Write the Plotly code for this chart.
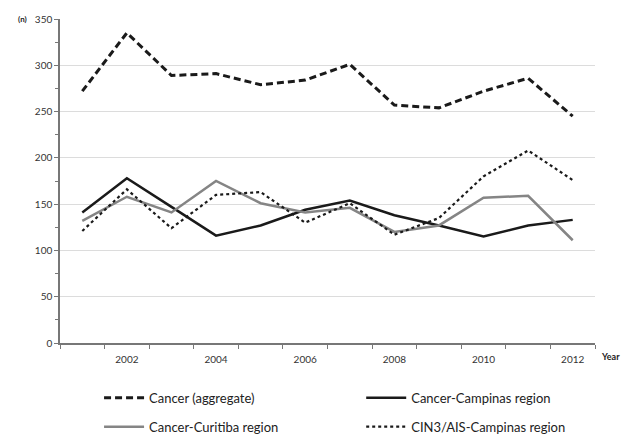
import plotly.graph_objects as go

years = [2001, 2002, 2003, 2004, 2005, 2006, 2007, 2008, 2009, 2010, 2011, 2012]
cancer_aggregate = [272, 335, 289, 291, 279, 284, 301, 257, 254, 272, 286, 245]
cancer_campinas = [141, 178, 147, 116, 127, 144, 154, 138, 127, 115, 127, 133]
cancer_curitiba = [132, 158, 141, 175, 151, 141, 146, 120, 127, 157, 159, 111]
cin3_campinas = [121, 166, 124, 160, 163, 130, 151, 117, 135, 180, 208, 176]
x_tick_labels = ["2002", "2004", "2006", "2008", "2010", "2012"]

font_family = "Lato, Open Sans, sans-serif"

fig = go.Figure()
fig.add_trace(go.Scatter(x=years, y=cancer_aggregate, mode="lines", name="Cancer (aggregate)",
                         legend="legend", legendgroup="a",
                         line=dict(color="#1a1a1a", width=3, dash="7px,4px")))
fig.add_trace(go.Scatter(x=years, y=cancer_campinas, mode="lines", name="Cancer-Campinas region",
                         legend="legend2", legendgroup="b",
                         line=dict(color="#1a1a1a", width=2.5)))
fig.add_trace(go.Scatter(x=years, y=cancer_curitiba, mode="lines", name="Cancer-Curitiba region",
                         legend="legend", legendgroup="c",
                         line=dict(color="#858585", width=2.5)))
fig.add_trace(go.Scatter(x=years, y=cin3_campinas, mode="lines", name="CIN3/AIS-Campinas region",
                         legend="legend2", legendgroup="d",
                         line=dict(color="#1a1a1a", width=2.2, dash="dot")))

legend_style = dict(orientation="v", yanchor="top", xanchor="left",
                    font=dict(size=13, color="#222222"), tracegroupgap=9,
                    itemwidth=40, bgcolor="rgba(0,0,0,0)")

# figure is a little taller than the window so the legends fit in the bottom margin
# without shrinking the plot area; the window shows the top 437 px.
fig.update_layout(
    width=626, height=470,
    margin=dict(l=60, r=31, t=19, b=127),
    paper_bgcolor="white", plot_bgcolor="white",
    font=dict(family=font_family, color="#333333"),
    showlegend=True,
    legend=dict(x=0.073, y=-0.123, **legend_style),
    legend2=dict(x=0.563, y=-0.123, **legend_style),
)
fig.update_xaxes(
    range=[2000.5, 2012.5],
    tickvals=[int(t) for t in x_tick_labels], ticktext=x_tick_labels,
    ticks="", showgrid=False, zeroline=False,
    showline=True, linecolor="#777777", linewidth=1.5,
    tickfont=dict(size=10, color="#333333"), ticklabelstandoff=6,
    minor=dict(tick0=2000.5, dtick=1, ticks="outside", ticklen=4, tickcolor="#777777", showgrid=False),
)
fig.update_yaxes(
    range=[0, 350], dtick=50, tick0=0,
    showgrid=True, gridcolor="#dcdcdc", gridwidth=1, zeroline=False,
    showline=True, linecolor="#777777", linewidth=1.5,
    ticks="outside", ticklen=4, tickcolor="#777777",
    tickfont=dict(size=10, color="#333333"),
    minor=dict(dtick=25, ticks="outside", ticklen=3, tickcolor="#777777", showgrid=False),
)
fig.add_annotation(text="<b>(n)</b>", xref="paper", yref="y", x=0, y=350, xshift=-31,
                   showarrow=False, font=dict(size=8, color="#222222"), xanchor="right")
fig.add_annotation(text="<b>Year</b>", xref="paper", yref="paper", x=1, y=0, xshift=4, yshift=-21,
                   showarrow=False, font=dict(size=9, color="#222222"), xanchor="left")

# remove the page's default body margin so the figure sits at the window's top-left corner
fig.write_html("out.html", config={"displayModeBar": False},
               post_script="document.body.style.margin='0';document.body.style.overflow='hidden';")
